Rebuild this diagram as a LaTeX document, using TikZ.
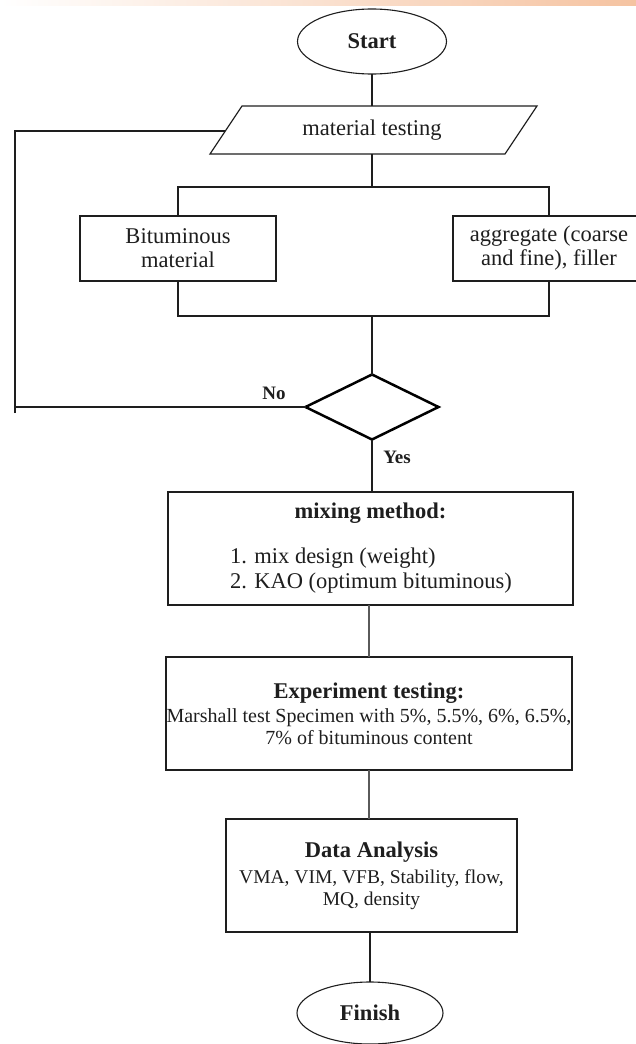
\documentclass[tikz,border=0pt]{standalone}
\usepackage{fontspec}
\setmainfont{Liberation Serif}
\usetikzlibrary{shapes.geometric}
\definecolor{ink}{HTML}{1E1E1E}
\definecolor{peach}{HTML}{F5C3A1}
\definecolor{grayline}{HTML}{5A5A5A}
\newcommand{\titlefont}{\fontsize{22.5}{25}\selectfont\bfseries}
\begin{document}
\begin{tikzpicture}[x=1pt,y=-1pt,
  every node/.style={text=ink, inner sep=0pt, outer sep=0pt},
  txt/.style={font=\fontsize{22.5}{24}\selectfont},
  term/.style={ellipse, draw=ink, line width=1.1pt, font=\fontsize{22.5}{25}\selectfont\bfseries},
  procbox/.style={rectangle, draw=ink, line width=1.3pt, align=center},
  lbl/.style={font=\fontsize{19}{21}\selectfont\bfseries},
  conn/.style={draw=ink, line width=1.2pt},
  connthick/.style={draw=grayline, line width=2.4pt},
]
\useasboundingbox (0,0) rectangle (636,1044);
\clip (0,0) rectangle (636,1044);
\shade[left color=white, right color=peach] (0,0) rectangle (636,5);

% terminals
\node[term, minimum width=149pt, minimum height=65pt] (start) at (372,41.5) {Start};
\node[term, minimum width=146pt, minimum height=62pt] (fin) at (370,1013) {Finish};

% parallelogram
\coordinate (p1) at (242,106);
\coordinate (p2) at (537,106);
\coordinate (p3) at (505,154);
\coordinate (p4) at (210,154);
\draw[conn] (p1) -- (p2) -- (p3) -- (p4) -- cycle;
\node[txt, minimum width=260pt, minimum height=48pt] (mt) at (372,130) {material testing};

% material boxes
\node[procbox, txt, minimum width=196pt, minimum height=65pt] (bit) at (178,248.5) {Bituminous\\material};
\node[procbox, txt, minimum width=192pt, minimum height=65pt] (agg) at (549,248.5) {aggregate (coarse\\and fine), filler};

% decision
\node[diamond, draw=black, line width=2.5pt, minimum width=133pt, minimum height=65pt] (dec) at (372,407) {};
\node[lbl] (no) at (274,393) {No};
\node[lbl] (yes) at (397,457) {Yes};

% process boxes
\node[procbox, line width=1.5pt, minimum width=405pt, minimum height=113pt, font=\fontsize{22.5}{25}\selectfont] (mix) at (370.5,548.5)
  {\textbf{mixing method:}\\[20pt]\makebox[281pt][l]{1. mix design (weight)}\\\makebox[281pt][l]{2. KAO (optimum bituminous)}};
\node[procbox, line width=1.5pt, minimum width=406pt, minimum height=113pt, font=\fontsize{20}{22}\selectfont] (exp) at (369,713.5)
  {{\titlefont Experiment testing:}\\[2pt]Marshall test Specimen with 5\%, 5.5\%, 6\%, 6.5\%,\\7\% of bituminous content};
\node[procbox, line width=1.8pt, minimum width=291pt, minimum height=113pt, font=\fontsize{19.5}{22}\selectfont] (data) at (371.5,875.5)
  {{\titlefont Data Analysis}\\[4pt]VMA, VIM, VFB, Stability, flow,\\MQ, density};

% connectors
\coordinate (b1) at (372,187);
\coordinate (b2) at (372,316);
\draw[conn] (start.south) -- (start.south |- mt.north);
\draw[conn] (mt.south) -- (b1);
\draw[conn] (bit.north) |- (b1) -| (agg.north);
\draw[conn] (bit.south) |- (b2) -| (agg.south);
\draw[conn] (b2) -- (dec.north);
\draw[conn] (dec.south) -- (dec.south |- mix.north);
\draw[connthick] (exp.north |- mix.south) -- (exp.north);
\draw[connthick] (exp.south) -- (exp.south |- data.north);
\draw[conn] (fin.north |- data.south) -- (fin.north);

% feedback loop
\coordinate (fbA) at (15,407);
\coordinate (fbB) at (15,413);
\coordinate (fbC) at (15,131);
\coordinate (fbD) at (225.3,131);
\draw[conn] (dec.west) -- (fbA);
\draw[conn] (fbB) -- (fbC) -- (fbD);
\end{tikzpicture}
\end{document}
